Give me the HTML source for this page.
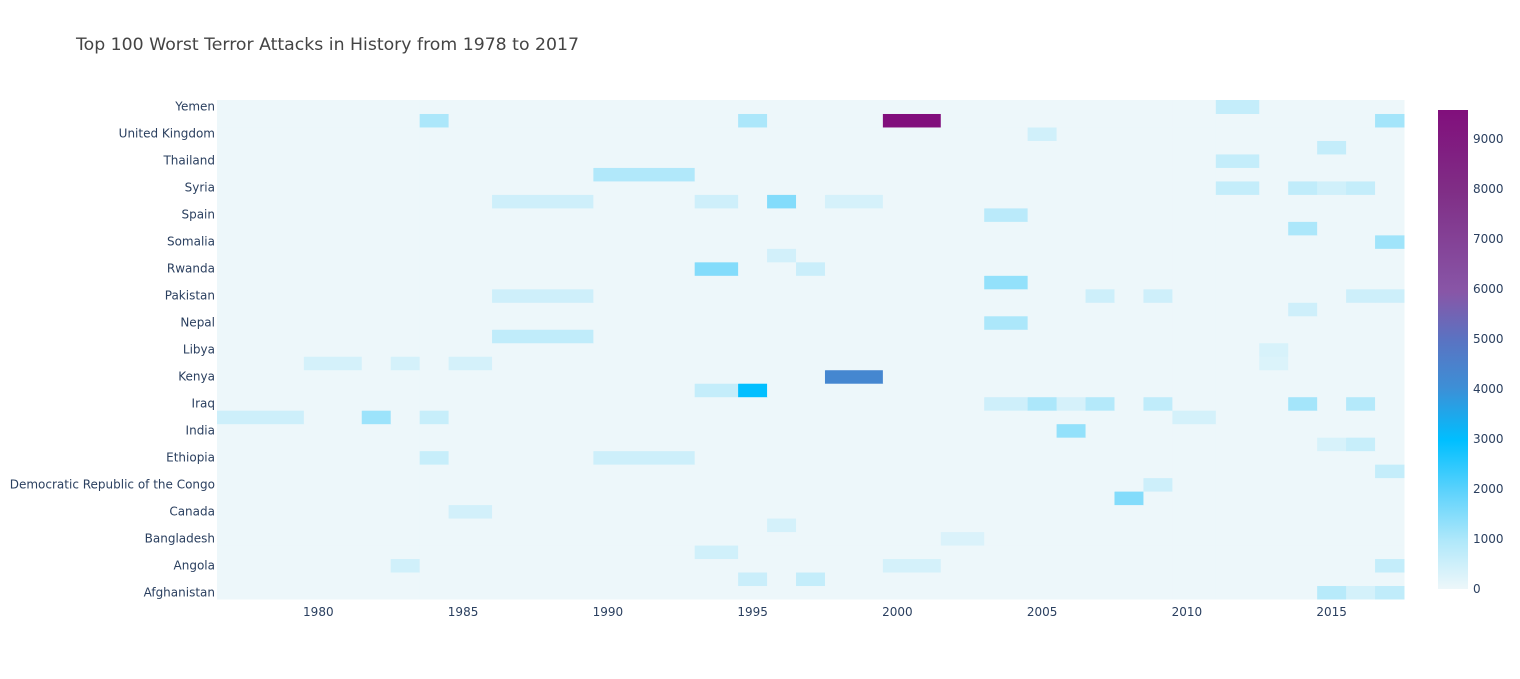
<!DOCTYPE html>
<html><head><meta charset="utf-8">
<style>
body{margin:0;background:#fff;}
svg{display:block;font-family:"DejaVu Sans","Liberation Sans",Arial,sans-serif;}
</style></head>
<body>
<svg id="chart" width="1520" height="679">
<text x="76" y="50" font-size="17" fill="#444" textLength="503" lengthAdjust="spacingAndGlyphs">Top 100 Worst Terror Attacks in History from 1978 to 2017</text>
<g id="cells"></g>
<g id="yaxis"></g>
<g id="xaxis"></g>
<defs><linearGradient id="cbgrad" x1="0" y1="1" x2="0" y2="0"></linearGradient></defs>
<g id="colorbar"></g>
</svg>
<script>
const countries = ["Afghanistan","Algeria","Angola","Argentina","Bangladesh","Burundi","Canada","Colombia","Democratic Republic of the Congo","Egypt","Ethiopia","France","India","Iran","Iraq","Italy","Kenya","Lebanon","Libya","Mozambique","Nepal","Nigeria","Pakistan","Russia","Rwanda","Saudi Arabia","Somalia","South Sudan","Spain","Sri Lanka","Syria","Tajikistan","Thailand","Turkey","United Kingdom","United States","Yemen"];
const years = [1978,1981,1982,1983,1984,1985,1987,1992,1994,1995,1996,1997,1998,2001,2002,2004,2005,2006,2007,2008,2009,2010,2012,2013,2014,2015,2016,2017];
const cellCountry = ["Yemen","United States","United States","United States","United States","United Kingdom","Turkey","Thailand","Tajikistan","Syria","Syria","Syria","Syria","Sri Lanka","Sri Lanka","Sri Lanka","Sri Lanka","Spain","South Sudan","Somalia","Saudi Arabia","Rwanda","Rwanda","Russia","Pakistan","Pakistan","Pakistan","Pakistan","Pakistan","Nigeria","Nepal","Mozambique","Libya","Lebanon","Lebanon","Lebanon","Lebanon","Kenya","Italy","Italy","Iraq","Iraq","Iraq","Iraq","Iraq","Iraq","Iraq","Iran","Iran","Iran","Iran","India","France","France","Ethiopia","Ethiopia","Egypt","Democratic Republic of the Congo","Colombia","Canada","Burundi","Bangladesh","Argentina","Angola","Angola","Angola","Algeria","Algeria","Afghanistan","Afghanistan","Afghanistan"];
const cellYear = [2012,1984,1995,2001,2017,2005,2015,2012,1992,2012,2014,2015,2016,1987,1994,1996,1998,2004,2014,2017,1996,1994,1997,2004,1987,2007,2009,2016,2017,2014,2004,1987,2013,1981,1983,1985,2013,1998,1994,1995,2004,2005,2006,2007,2009,2014,2016,1978,1982,1984,2010,2006,2015,2016,1984,1992,2017,2009,2008,1985,1996,2002,1994,1983,2001,2017,1995,1997,2015,2016,2017];
const cellValue = [650,1000,1000,9580,1100,450,650,650,950,650,700,450,650,480,480,1500,380,800,1000,1150,420,1500,550,1300,480,500,480,500,500,480,1000,700,350,400,400,400,280,4300,650,2950,480,1000,380,900,700,1100,900,500,1200,600,400,1300,350,600,600,500,650,500,1500,420,400,300,450,450,400,650,550,650,850,400,700];
const zMax = 9580;

const NS="http://www.w3.org/2000/svg";
const L=217,R=1404,T=100,B=599;
const stops=[[0,[237,247,250]],[0.1,[176,232,250]],[0.2,[96,211,252]],[0.31,[0,191,255]],[0.42,[61,143,214]],[0.52,[90,115,194]],[0.62,[136,86,167]],[0.83,[128,46,134]],[1,[129,15,124]]];
function color(v){const t=Math.max(0,Math.min(1,v/zMax));for(let i=1;i<stops.length;i++){if(t<=stops[i][0]){const a=stops[i-1],b=stops[i],f=(t-a[0])/(b[0]-a[0]);const c=a[1].map((x,k)=>Math.round(x+(b[1][k]-x)*f));return `rgb(${c.join(',')})`;}}return 'rgb(129,15,124)';}
const x0=1976.5,x1=2017.5;
function xs(y){return L+(y-x0)/(x1-x0)*(R-L);}
const rowH=(B-T)/countries.length;
function ys(i){return B-(i+1)*rowH;}
function bounds(j){const lo=j===0?years[0]-(years[1]-years[0])/2:(years[j-1]+years[j])/2;const hi=j===years.length-1?years[j]+(years[j]-years[j-1])/2:(years[j]+years[j+1])/2;return [lo,hi];}
const z=countries.map(()=>years.map(()=>0));
for(let k=0;k<cellValue.length;k++){const i=countries.indexOf(cellCountry[k]),j=years.indexOf(cellYear[k]);if(i>=0&&j>=0)z[i][j]=cellValue[k];}
const gc=document.getElementById('cells');
for(let i=0;i<countries.length;i++)for(let j=0;j<years.length;j++){const [lo,hi]=bounds(j);const r=document.createElementNS(NS,'rect');const xa=xs(lo),xb=xs(hi);r.setAttribute('x',xa);r.setAttribute('y',ys(i));r.setAttribute('width',xb-xa+0.5);r.setAttribute('height',rowH+0.5);r.setAttribute('fill',color(z[i][j]));


gc.appendChild(r);}
const gy=document.getElementById('yaxis');
countries.forEach((c,i)=>{if(i%2)return;const t=document.createElementNS(NS,'text');t.setAttribute('x',L-2);t.setAttribute('y',ys(i)+rowH/2+4);t.setAttribute('text-anchor','end');t.setAttribute('font-size','12');t.setAttribute('fill','#2a3f5f');t.textContent=c;


gy.appendChild(t);});
const xTicks=[1980,1985,1990,1995,2000,2005,2010,2015];
const gx=document.getElementById('xaxis');
xTicks.forEach(v=>{const t=document.createElementNS(NS,'text');t.setAttribute('x',xs(v));t.setAttribute('y',616);t.setAttribute('text-anchor','middle');t.setAttribute('font-size','12');t.setAttribute('fill','#2a3f5f');t.textContent=v;


gx.appendChild(t);});
const grad=document.getElementById('cbgrad');
stops.forEach(s=>{const st=document.createElementNS(NS,'stop');st.setAttribute('offset',s[0]);st.setAttribute('stop-color',`rgb(${s[1].join(',')})`);grad.appendChild(st);});
const cb=document.getElementById('colorbar');
const cbT=110,cbB=589;
const rect=document.createElementNS(NS,'rect');rect.setAttribute('x',1438);rect.setAttribute('y',cbT);rect.setAttribute('width',30);rect.setAttribute('height',cbB-cbT);rect.setAttribute('fill','url(#cbgrad)');


cb.appendChild(rect);
const cbTicks=[0,1000,2000,3000,4000,5000,6000,7000,8000,9000];
cbTicks.forEach(v=>{const t=document.createElementNS(NS,'text');t.setAttribute('x',1473);t.setAttribute('y',cbB-(v/zMax)*(cbB-cbT)+4);t.setAttribute('font-size','12');t.setAttribute('fill','#2a3f5f');t.textContent=v;


cb.appendChild(t);});
</script>
</body></html>
